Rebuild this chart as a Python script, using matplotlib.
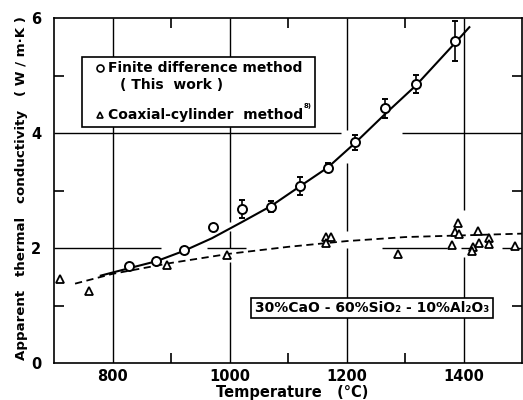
import matplotlib
matplotlib.use("Agg")
import matplotlib.pyplot as plt
from matplotlib.patches import Rectangle

# ---- data ----
fd_T = [828, 875, 922, 971, 1022, 1071, 1120, 1168, 1215, 1266, 1319, 1386]
fd_k = [1.68, 1.77, 1.96, 2.37, 2.68, 2.72, 3.08, 3.40, 3.84, 4.43, 4.85, 5.60]
fd_err = [0.05, 0.05, 0.05, 0.04, 0.15, 0.10, 0.16, 0.07, 0.13, 0.17, 0.16, 0.35]

cc_T = [710, 759, 893, 995, 1165, 1173, 1165, 1288, 1391, 1385, 1393, 1381,
        1424, 1444, 1444, 1427, 1417, 1415, 1488]
cc_k = [1.46, 1.25, 1.70, 1.88, 2.19, 2.19, 2.09, 1.90, 2.43, 2.28, 2.24, 2.05,
        2.30, 2.17, 2.07, 2.09, 2.02, 1.95, 2.04]

fit_T = [780, 829, 875, 922, 970, 1021, 1071, 1120, 1168, 1215, 1266, 1319, 1386, 1410]
fit_k = [1.52, 1.65, 1.77, 1.95, 2.17, 2.45, 2.73, 3.07, 3.40, 3.83, 4.33, 4.83, 5.57, 5.84]

dash_T = [736, 800, 900, 1000, 1100, 1200, 1300, 1400, 1500]
dash_k = [1.38, 1.55, 1.74, 1.90, 2.02, 2.12, 2.19, 2.22, 2.25]

x_ticks = [800, 1000, 1200, 1400]
y_ticks = [0, 2, 4, 6]
x_minor = [900, 1100, 1300]
y_minor = [1, 3, 5]

plt.rcParams['font.family'] = ['DejaVu Sans']
plt.rcParams['font.weight'] = 'bold'

fig = plt.figure(figsize=(5.23, 4.0), dpi=100)
ax = fig.add_axes([54/523, 37/400, 468/523, 345/400])
ax.set_xlim(700, 1500)
ax.set_ylim(0, 6)

# grid segments (fragmented as in the scan)
gk = dict(color='black', lw=1.0, zorder=1)
ax.vlines(800, 0, 6, **gk)
for a, b in [(0, 1.75), (2.0, 2.3), (2.45, 6)]:
    ax.vlines(1000, a, b, **gk)
for a, b in [(0, 2.0), (2.3, 3.48), (4.05, 6)]:
    ax.vlines(1200, a, b, **gk)
for a, b in [(0, 1.84), (2.66, 6)]:
    ax.vlines(1400, a, b, **gk)
for a, b in [(700, 1190), (1295, 1500)]:
    ax.hlines(4, a, b, **gk)
for a, b in [(700, 883), (961, 1029), (1260, 1372), (1395, 1415), (1465, 1500)]:
    ax.hlines(2, a, b, **gk)

# curves
ax.plot(fit_T, fit_k, color='black', lw=1.5, zorder=3)
ax.plot(dash_T, dash_k, color='black', lw=1.3, ls=(0, (4, 2.5)), zorder=3)

# data
ax.errorbar(fd_T, fd_k, yerr=fd_err, fmt='o', ms=6.5, mfc='white', mec='black',
            mew=1.4, ecolor='black', elinewidth=1.2, capsize=2.5, capthick=1.2, zorder=4)
ax.plot(cc_T, cc_k, '^', ms=5.5, mfc='white', mec='black', mew=1.3, ls='none', zorder=4)

# ticks
ax.set_xticks(x_ticks)
ax.set_yticks(y_ticks)
ax.set_xticks(x_minor, minor=True)
ax.set_yticks(y_minor, minor=True)
ax.tick_params(which='major', length=0, labelsize=10.5)
ax.tick_params(axis='x', which='major', pad=4)
ax.tick_params(axis='y', which='major', pad=9)
ax.tick_params(which='minor', direction='in', length=7, width=1.2,
               top=True, right=True)
for lab in ax.get_xticklabels() + ax.get_yticklabels():
    lab.set_fontweight('bold')
for s in ax.spines.values():
    s.set_linewidth(1.2)

ax.set_xlabel('Temperature   (°C)', fontsize=10.5, fontweight='bold')
ax.xaxis.set_label_coords((292-54)/468, -(392-363)/345)
ax.xaxis.label.set_va('center')
ax.set_ylabel('Apparent   thermal   conductivity   ( W / m·K )',
              fontsize=9.6, fontweight='bold')
ax.yaxis.set_label_coords(-(54-22)/468, (363-188)/345)
ax.yaxis.label.set_va('center')

# legend box (manual)
tr = ax.transAxes
ax.add_patch(Rectangle(((82-54)/468, (363-127)/345), (315-82)/468, (127-57)/345,
                       transform=tr, facecolor='white', edgecolor='black',
                       lw=1.2, zorder=5))
ax.plot([(100-54)/468], [(363-68)/345], 'o', ms=5, mfc='white', mec='black',
        mew=1.2, transform=tr, zorder=6, clip_on=False)
ax.text((108-54)/468, (363-68)/345, 'Finite difference method', transform=tr,
        fontsize=10, fontweight='bold', va='center', ha='left', zorder=6)
ax.text((120-54)/468, (363-85)/345, '( This  work )', transform=tr,
        fontsize=10, fontweight='bold', va='center', ha='left', zorder=6)
ax.plot([(100-54)/468], [(363-115)/345], '^', ms=5, mfc='white', mec='black',
        mew=1.2, transform=tr, zorder=6, clip_on=False)
ax.text((108-54)/468, (363-115)/345, 'Coaxial-cylinder  method', transform=tr,
        fontsize=10, fontweight='bold', va='center', ha='left', zorder=6)
ax.text((304-54)/468, (363-106)/345, '8)', transform=tr,
        fontsize=5, fontweight='bold', va='center', ha='left', zorder=6)

# composition box
ax.text((372-54)/468, (363-308)/345, '30%CaO - 60%SiO₂ - 10%Al₂O₃', transform=tr,
        fontsize=10, fontweight='bold', va='center', ha='center', zorder=6,
        bbox=dict(boxstyle='square,pad=0.25', facecolor='white', edgecolor='black', lw=1.2))

fig.savefig('out.png', dpi=100)
